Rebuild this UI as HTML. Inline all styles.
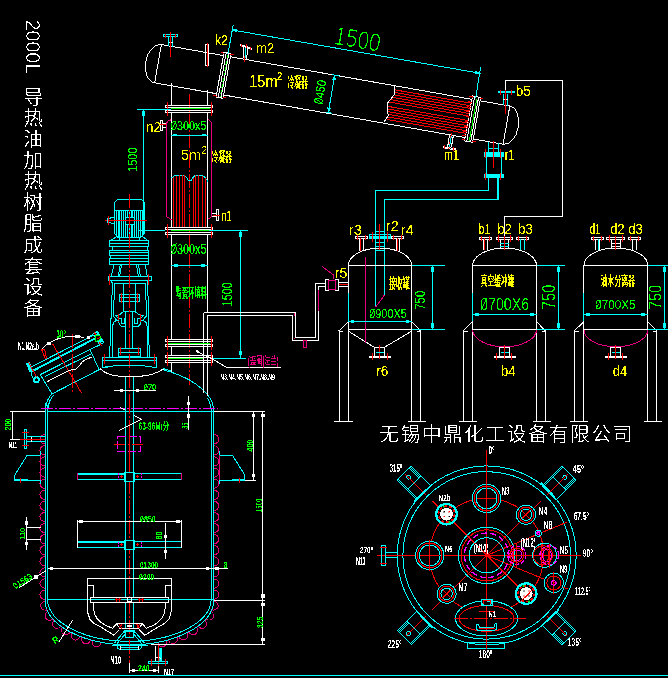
<!DOCTYPE html>
<html lang="zh"><head><meta charset="utf-8"><title>2000L 导热油加热树脂成套设备</title>
<style>
html,body{margin:0;padding:0;background:#000;}
body{width:668px;height:678px;overflow:hidden;position:relative;}
svg{display:block;position:absolute;left:0;top:0;}
svg *{vector-effect:none;}
text{font-family:"Liberation Sans","Noto Sans CJK SC",sans-serif;stroke:none;}
.cj{font-family:"Liberation Sans","Noto Sans CJK SC",sans-serif;}
</style></head><body>
<svg width="668" height="678" viewBox="0 0 668 678" shape-rendering="crispEdges" fill="none" stroke-linecap="butt">
<defs><filter id="pxx" x="0" y="0" width="668" height="678" filterUnits="userSpaceOnUse" color-interpolation-filters="sRGB"><feComponentTransfer><feFuncA type="discrete" tableValues="0 0 0 1"/></feComponentTransfer></filter>
<filter id="pxb" x="0" y="0" width="668" height="678" filterUnits="userSpaceOnUse" color-interpolation-filters="sRGB"><feComponentTransfer><feFuncA type="discrete" tableValues="0 0 0 1 1"/></feComponentTransfer></filter>
<filter id="pxm" x="0" y="0" width="668" height="678" filterUnits="userSpaceOnUse" color-interpolation-filters="sRGB"><feComponentTransfer><feFuncA type="discrete" tableValues="0 1"/></feComponentTransfer></filter>
<filter id="pxc" x="0" y="0" width="668" height="678" filterUnits="userSpaceOnUse" color-interpolation-filters="sRGB"><feComponentTransfer><feFuncA type="discrete" tableValues="0 0 1 1 1"/></feComponentTransfer></filter>
<filter id="pxs" x="0" y="0" width="668" height="678" filterUnits="userSpaceOnUse" color-interpolation-filters="sRGB"><feComponentTransfer><feFuncA type="discrete" tableValues="0 1 1 1"/></feComponentTransfer></filter>
</defs>
<rect x="0" y="0" width="668" height="678" fill="#000" stroke="none"/>
<line x1="161.4" y1="44.6" x2="223.44" y2="55.54" stroke="#ffffff"/>
<line x1="230.34" y1="56.76" x2="471.91" y2="99.35" stroke="#ffffff"/>
<line x1="479.99" y1="100.78" x2="509.82" y2="106.04" stroke="#ffffff"/>
<line x1="154.66" y1="82.81" x2="216.71" y2="93.75" stroke="#ffffff"/>
<line x1="223.6" y1="94.97" x2="465.17" y2="137.56" stroke="#ffffff"/>
<line x1="473.25" y1="138.99" x2="503.09" y2="144.25" stroke="#ffffff"/>
<line x1="161.4" y1="44.6" x2="154.66" y2="82.81" stroke="#ffffff"/>
<line x1="509.82" y1="106.04" x2="503.09" y2="144.25" stroke="#ffffff"/>
<g transform="translate(161.4 44.6) rotate(10.0)">
<path d="M0,0 A12.5,19.4 0 0 0 0,38.8" stroke="#ffffff" fill="none"/>
<path d="M353.8,0 A12,19.4 0 0 1 353.8,38.8" stroke="#ffffff" fill="none"/>
</g>
<polygon points="224.03,52.19 230.93,53.41 223.01,98.31 216.11,97.1" stroke="#ffffff" fill="none"/>
<line x1="226.2" y1="52.57" x2="218.28" y2="97.48" stroke="#ffffff"/>
<line x1="227.72" y1="54.87" x2="220.33" y2="96.83" stroke="#00ff00" stroke-dasharray="4 2"/>
<line x1="228.96" y1="53.06" x2="221.04" y2="97.97" stroke="#ffffff"/>
<line x1="220.91" y1="52.66" x2="224.35" y2="53.26" stroke="#ff0000"/>
<line x1="230.26" y1="54.31" x2="233.71" y2="54.91" stroke="#ff0000"/>
<line x1="213.33" y1="95.59" x2="216.78" y2="96.2" stroke="#ff0000"/>
<line x1="222.69" y1="97.24" x2="226.14" y2="97.85" stroke="#ff0000"/>
<polygon points="472.5,96 480.58,97.43 472.66,142.33 464.58,140.91" stroke="#ffffff" fill="none"/>
<line x1="474.67" y1="96.38" x2="466.75" y2="141.29" stroke="#ffffff"/>
<line x1="476.78" y1="98.79" x2="469.38" y2="140.74" stroke="#00ff00"/>
<line x1="478.61" y1="97.08" x2="470.69" y2="141.99" stroke="#ffffff"/>
<line x1="469.37" y1="96.47" x2="472.82" y2="97.07" stroke="#ff0000"/>
<line x1="479.91" y1="98.32" x2="483.36" y2="98.93" stroke="#ff0000"/>
<line x1="461.8" y1="139.4" x2="465.25" y2="140.01" stroke="#ff0000"/>
<line x1="472.34" y1="141.26" x2="475.79" y2="141.87" stroke="#ff0000"/>
<line x1="395.29" y1="89.9" x2="471.22" y2="103.29" stroke="#ff0000"/>
<line x1="395.29" y1="92.54" x2="470.76" y2="105.85" stroke="#ff0000"/>
<line x1="394.66" y1="95.07" x2="470.31" y2="108.41" stroke="#ff0000"/>
<line x1="393.06" y1="97.43" x2="469.86" y2="110.97" stroke="#ff0000"/>
<line x1="391.15" y1="99.73" x2="469.41" y2="113.53" stroke="#ff0000"/>
<line x1="389.18" y1="102.03" x2="468.96" y2="116.09" stroke="#ff0000"/>
<line x1="388.39" y1="106.46" x2="468.18" y2="120.52" stroke="#ff0000"/>
<line x1="388.39" y1="109.1" x2="467.72" y2="123.09" stroke="#ff0000"/>
<line x1="388.39" y1="111.74" x2="467.27" y2="125.65" stroke="#ff0000"/>
<line x1="389.01" y1="114.49" x2="466.82" y2="128.21" stroke="#ff0000"/>
<line x1="388.32" y1="117" x2="466.37" y2="130.77" stroke="#ff0000"/>
<line x1="386.7" y1="119.36" x2="465.92" y2="133.33" stroke="#ff0000"/>
<line x1="468.14" y1="101.73" x2="472.08" y2="102.43" stroke="#ff0000"/>
<line x1="467.27" y1="106.66" x2="471.21" y2="107.35" stroke="#ff0000"/>
<line x1="466.4" y1="111.58" x2="470.34" y2="112.28" stroke="#ff0000"/>
<line x1="465.53" y1="116.5" x2="469.47" y2="117.2" stroke="#ff0000"/>
<line x1="464.67" y1="121.43" x2="468.61" y2="122.12" stroke="#ff0000"/>
<line x1="463.8" y1="126.35" x2="467.74" y2="127.05" stroke="#ff0000"/>
<line x1="462.93" y1="131.28" x2="466.87" y2="131.97" stroke="#ff0000"/>
<line x1="462.24" y1="135.22" x2="466.17" y2="135.91" stroke="#ff0000"/>
<polyline points="394.5,85.8 394.5,94 392,97.7 387.6,102.8 387.6,112.8 388.6,115.3 383.8,122.3" stroke="#ffffff" fill="none"/>
<line x1="232.5" y1="30" x2="479.6" y2="73.2" stroke="#00ffff"/>
<line x1="227.9" y1="54" x2="233.3" y2="24.5" stroke="#00ffff"/>
<line x1="475.8" y1="97.7" x2="480.6" y2="66.9" stroke="#00ffff"/>
<polygon points="232.5,30 236.63,29.61 236.25,31.78" stroke="#00ffff" fill="#00ffff"/>
<polygon points="479.6,73.2 475.47,73.59 475.85,71.42" stroke="#00ffff" fill="#00ffff"/>
<line x1="334.8" y1="75.2" x2="328.3" y2="112.3" stroke="#00ffff"/>
<line x1="332" y1="74.6" x2="340" y2="76.2" stroke="#00ffff"/>
<line x1="326" y1="112" x2="332" y2="113.2" stroke="#00ffff"/>
<polygon points="334.8,75.5 335.19,79.63 333.02,79.25" stroke="#00ffff" fill="#00ffff"/>
<polygon points="328.3,112.2 327.91,108.07 330.08,108.45" stroke="#00ffff" fill="#00ffff"/>
<rect x="163.5" y="34.5" width="14" height="2" stroke="#00ffff" fill="none"/>
<line x1="168.5" y1="37" x2="168.5" y2="46" stroke="#00ffff"/>
<line x1="172.8" y1="37" x2="172.8" y2="47" stroke="#00ffff"/>
<line x1="168.5" y1="42.8" x2="172.8" y2="42.8" stroke="#ffffff"/>
<line x1="170.4" y1="31.9" x2="170.4" y2="56.7" stroke="#ff0000"/>
<line x1="165.5" y1="33.5" x2="165.5" y2="38" stroke="#ff0000"/>
<line x1="175.6" y1="33.5" x2="175.6" y2="38" stroke="#ff0000"/>
<rect x="205.5" y="44.5" width="3.4" height="21.3" stroke="#ffffff" fill="none"/>
<line x1="207.3" y1="43.2" x2="207.3" y2="66.8" stroke="#ff0000"/>
<line x1="240.3" y1="44.5" x2="252.2" y2="48.3" stroke="#ffffff"/>
<line x1="240.3" y1="45.6" x2="252.2" y2="49.4" stroke="#ffffff"/>
<line x1="244" y1="46.5" x2="243.4" y2="58.3" stroke="#ffffff"/>
<line x1="247.8" y1="48" x2="246.5" y2="59" stroke="#ffffff"/>
<line x1="246.5" y1="44.5" x2="244.4" y2="61.5" stroke="#ff0000"/>
<line x1="245.8" y1="48" x2="245" y2="58" stroke="#00ffff"/>
<line x1="241.5" y1="43.5" x2="241.5" y2="46.5" stroke="#ff0000"/>
<line x1="250.5" y1="46.5" x2="250.5" y2="50" stroke="#ff0000"/>
<line x1="449.5" y1="135.2" x2="447.6" y2="147.1" stroke="#ffffff"/>
<line x1="453.3" y1="135.8" x2="451.4" y2="147.1" stroke="#ffffff"/>
<line x1="442.6" y1="146.5" x2="455.8" y2="149" stroke="#ffffff"/>
<line x1="442.6" y1="147.6" x2="455.8" y2="150" stroke="#ffffff"/>
<line x1="451.4" y1="133.3" x2="448.9" y2="149" stroke="#ff0000"/>
<line x1="451.3" y1="136" x2="449.6" y2="147" stroke="#00ffff"/>
<line x1="444.5" y1="145" x2="444.5" y2="148.5" stroke="#ff0000"/>
<line x1="453.5" y1="147" x2="453.5" y2="150.5" stroke="#ff0000"/>
<rect x="498" y="91.2" width="16" height="1.1" stroke="#00ffff" fill="#00ffff"/>
<line x1="503" y1="93.5" x2="503" y2="104.8" stroke="#00ffff"/>
<line x1="507.8" y1="93.5" x2="507.8" y2="105.6" stroke="#00ffff"/>
<line x1="503" y1="99.5" x2="507.8" y2="99.5" stroke="#ffffff"/>
<line x1="505.4" y1="90.2" x2="505.4" y2="114" stroke="#ff0000"/>
<line x1="500.3" y1="90" x2="500.3" y2="94.5" stroke="#ff0000"/>
<line x1="511.7" y1="90" x2="511.7" y2="94.5" stroke="#ff0000"/>
<line x1="488.5" y1="141.6" x2="488.5" y2="152" stroke="#00ffff"/>
<line x1="498.6" y1="143.4" x2="498.6" y2="152" stroke="#00ffff"/>
<line x1="488.5" y1="148.4" x2="498.6" y2="148.4" stroke="#00ffff"/>
<rect x="484" y="152.5" width="19.3" height="3.5" stroke="#00ffff" fill="#00ffff"/>
<rect x="484" y="174" width="19.3" height="3.5" stroke="#00ffff" fill="#00ffff"/>
<line x1="486.2" y1="156.5" x2="486.2" y2="173.5" stroke="#00ffff"/>
<line x1="501" y1="156.5" x2="501" y2="173.5" stroke="#00ffff"/>
<line x1="493.5" y1="140.8" x2="493.5" y2="167.9" stroke="#ff0000"/>
<line x1="485.4" y1="149" x2="485.4" y2="158.4" stroke="#ff0000"/>
<line x1="485.4" y1="172.9" x2="485.4" y2="179.8" stroke="#ff0000"/>
<line x1="500.4" y1="149" x2="500.4" y2="158.4" stroke="#ff0000"/>
<line x1="500.4" y1="172.9" x2="500.4" y2="179.8" stroke="#ff0000"/>
<polyline points="488.5,178 488.5,190.5 375.5,190.5 375.5,307.3" stroke="#00ffff" fill="none"/>
<polyline points="498.6,199.5 384.2,199.5 384.2,295.2" stroke="#00ffff" fill="none"/>
<rect x="497.4" y="178" width="1.5" height="21.5" stroke="#00ffff" fill="#00ffff" stroke-width="0.8"/>
<polyline points="505.2,90 505.2,80.1 562.9,80.1 562.9,216 504.7,216 504.7,236" stroke="#ffffff" fill="none"/>
<line x1="171.4" y1="83" x2="171.4" y2="105.3" stroke="#ffffff"/>
<line x1="207.9" y1="89.5" x2="207.9" y2="105.3" stroke="#ffffff"/>
<line x1="171.4" y1="112.6" x2="171.4" y2="227.3" stroke="#ffffff"/>
<line x1="207.9" y1="112.6" x2="207.9" y2="227.3" stroke="#ffffff"/>
<line x1="171.4" y1="234.6" x2="171.4" y2="339.3" stroke="#ffffff"/>
<line x1="171.4" y1="346.7" x2="171.4" y2="355.2" stroke="#ffffff"/>
<line x1="171.4" y1="362.6" x2="171.4" y2="372.5" stroke="#ffffff"/>
<line x1="207.9" y1="234.6" x2="207.9" y2="312" stroke="#ffffff"/>
<line x1="189.5" y1="93.5" x2="189.5" y2="384.5" stroke="#ff0000" stroke-dasharray="14 2 2 2"/>
<rect x="165.2" y="105.3" width="47.5" height="2.55" stroke="#ffffff" fill="none"/>
<rect x="165.2" y="110.05" width="47.5" height="2.55" stroke="#ffffff" fill="none"/>
<line x1="171.4" y1="108.95" x2="209.8" y2="108.95" stroke="#00ff00"/>
<line x1="167.4" y1="101.9" x2="167.4" y2="115.6" stroke="#ff0000"/>
<line x1="211.4" y1="101.9" x2="211.4" y2="115.6" stroke="#ff0000"/>
<rect x="165.3" y="227.3" width="47.3" height="2.55" stroke="#ffffff" fill="none"/>
<rect x="165.3" y="232.05" width="47.3" height="2.55" stroke="#ffffff" fill="none"/>
<line x1="170.8" y1="230.95" x2="209" y2="230.95" stroke="#00ff00"/>
<line x1="167.5" y1="223.9" x2="167.5" y2="237.6" stroke="#ff0000"/>
<line x1="211.3" y1="223.9" x2="211.3" y2="237.6" stroke="#ff0000"/>
<line x1="136.7" y1="109.4" x2="171.4" y2="109.4" stroke="#00ffff"/>
<line x1="143.6" y1="109.4" x2="143.6" y2="230.5" stroke="#00ffff"/>
<line x1="138" y1="230.5" x2="165.3" y2="230.5" stroke="#00ffff"/>
<line x1="209" y1="230.5" x2="247.5" y2="230.5" stroke="#00ffff"/>
<rect x="142.6" y="111.5" width="2" height="3.5" stroke="#00ffff" fill="#00ffff"/>
<rect x="142.6" y="225" width="2" height="4" stroke="#00ffff" fill="#00ffff"/>
<rect x="160.3" y="120.3" width="2" height="10.5" stroke="#ffffff" fill="none"/>
<line x1="162.3" y1="123.5" x2="166.4" y2="123.5" stroke="#ffffff"/>
<line x1="162.3" y1="127.2" x2="166.4" y2="127.2" stroke="#ffffff"/>
<line x1="159" y1="124" x2="166" y2="124" stroke="#ff0000"/>
<polyline points="170.8,119.9 168,121 166.4,123.3 166.4,216.6 171.4,219.7" stroke="#e6007e" fill="none"/>
<polyline points="208,119.6 210.3,121 211.8,123.3 211.8,216.6 207.9,219.3" stroke="#e6007e" fill="none"/>
<line x1="171.4" y1="135.6" x2="207.9" y2="135.6" stroke="#00ffff"/>
<rect x="173.5" y="134.2" width="3" height="1.4" stroke="#00ffff" fill="#00ffff"/>
<rect x="202" y="134.2" width="3.5" height="1.4" stroke="#00ffff" fill="#00ffff"/>
<polyline points="171.4,178.2 174,176 177,175.3 184,175.3 186.5,177.5 188,180 189.6,180.7 191.5,180 193,177.5 195.3,175.3 201.6,175.3 204.5,177 207.9,181.4" stroke="#00ffff" fill="none"/>
<line x1="173.3" y1="177" x2="173.3" y2="227.3" stroke="#ff0000"/>
<line x1="176.4" y1="175.6" x2="176.4" y2="227.3" stroke="#ff0000"/>
<line x1="179.6" y1="175.3" x2="179.6" y2="227.3" stroke="#ff0000"/>
<line x1="182.1" y1="175.3" x2="182.1" y2="227.3" stroke="#ff0000"/>
<line x1="184" y1="175.3" x2="184" y2="227.3" stroke="#ff0000"/>
<line x1="193.4" y1="177.5" x2="193.4" y2="227.3" stroke="#ff0000"/>
<line x1="195.3" y1="175.3" x2="195.3" y2="227.3" stroke="#ff0000"/>
<line x1="198.4" y1="175.3" x2="198.4" y2="227.3" stroke="#ff0000"/>
<line x1="202.2" y1="175.6" x2="202.2" y2="227.3" stroke="#ff0000"/>
<line x1="205.3" y1="178" x2="205.3" y2="227.3" stroke="#ff0000"/>
<line x1="211.9" y1="213.6" x2="216.5" y2="213.6" stroke="#ffffff"/>
<line x1="211.9" y1="216.8" x2="216.5" y2="216.8" stroke="#ffffff"/>
<rect x="216.3" y="209.5" width="2.6" height="11.1" stroke="#ffffff" fill="none"/>
<line x1="213" y1="215.3" x2="220" y2="215.3" stroke="#ff0000"/>
<line x1="171.4" y1="265.4" x2="207.9" y2="265.4" stroke="#00ffff"/>
<rect x="174.3" y="264.3" width="2.7" height="2.3" stroke="#00ffff" fill="#00ffff"/>
<rect x="201.4" y="264.3" width="2.8" height="2.3" stroke="#00ffff" fill="#00ffff"/>
<line x1="240.6" y1="230.5" x2="240.6" y2="358.3" stroke="#00ffff"/>
<rect x="239.4" y="232.5" width="2.4" height="3.5" stroke="#00ffff" fill="#00ffff"/>
<rect x="239.4" y="351.8" width="2.4" height="3" stroke="#00ffff" fill="#00ffff"/>
<polyline points="114.2,210.1 114.2,202.7 117.7,199.2 141.5,199.2 144.7,202.5 144.7,210.1" stroke="#00ffff" fill="none"/>
<line x1="114.2" y1="210.1" x2="144.7" y2="210.1" stroke="#00ffff"/>
<polyline points="114.2,210.1 114.2,232.8 118.3,237.8 140.3,237.8 144.7,232.8 144.7,210.1" stroke="#00ffff" fill="none"/>
<line x1="116.2" y1="211" x2="116.2" y2="236.8" stroke="#00ffff"/>
<line x1="118.06" y1="211" x2="118.06" y2="236.8" stroke="#00ffff"/>
<line x1="119.92" y1="211" x2="119.92" y2="236.8" stroke="#00ffff"/>
<line x1="121.78" y1="211" x2="121.78" y2="236.8" stroke="#00ffff"/>
<line x1="123.64" y1="211" x2="123.64" y2="236.8" stroke="#00ffff"/>
<line x1="125.5" y1="211" x2="125.5" y2="236.8" stroke="#00ffff"/>
<line x1="127.36" y1="211" x2="127.36" y2="236.8" stroke="#00ffff"/>
<line x1="129.22" y1="211" x2="129.22" y2="236.8" stroke="#00ffff"/>
<line x1="131.08" y1="211" x2="131.08" y2="236.8" stroke="#00ffff"/>
<line x1="132.94" y1="211" x2="132.94" y2="236.8" stroke="#00ffff"/>
<line x1="134.8" y1="211" x2="134.8" y2="236.8" stroke="#00ffff"/>
<line x1="136.66" y1="211" x2="136.66" y2="236.8" stroke="#00ffff"/>
<line x1="138.52" y1="211" x2="138.52" y2="236.8" stroke="#00ffff"/>
<line x1="140.38" y1="211" x2="140.38" y2="236.8" stroke="#00ffff"/>
<line x1="142.24" y1="211" x2="142.24" y2="236.8" stroke="#00ffff"/>
<line x1="143.9" y1="203" x2="143.9" y2="233" stroke="#00ffff" stroke-width="2"/>
<rect x="125" y="217" width="9.9" height="7" stroke="#00ffff" fill="#000000"/>
<line x1="104.8" y1="220.4" x2="146.6" y2="220.4" stroke="#ff0000"/>
<polyline points="114.2,217.2 111.5,217.2 110.5,218.2 107,218.2 107,222.3 110.5,222.3 111.5,223.2 114.2,223.2" stroke="#00ffff" fill="none"/>
<line x1="108.6" y1="215.8" x2="108.6" y2="224.6" stroke="#ff0000"/>
<line x1="118.3" y1="237.8" x2="140.3" y2="237.8" stroke="#00ffff"/>
<line x1="115.8" y1="237.2" x2="110" y2="240.9" stroke="#00ffff"/>
<line x1="143.5" y1="237.2" x2="148.5" y2="240.9" stroke="#00ffff"/>
<line x1="119.8" y1="237.8" x2="119.8" y2="240.9" stroke="#00ffff"/>
<line x1="139.2" y1="237.8" x2="139.2" y2="240.9" stroke="#00ffff"/>
<rect x="109.5" y="240.9" width="39.4" height="5.7" stroke="#00ffff" fill="none"/>
<line x1="109.5" y1="243.5" x2="148.9" y2="243.5" stroke="#00ffff"/>
<rect x="109.5" y="250.4" width="39.4" height="5" stroke="#00ffff" fill="none"/>
<line x1="109.5" y1="252.3" x2="148.9" y2="252.3" stroke="#00ffff"/>
<rect x="109.5" y="258.6" width="39.4" height="5.7" stroke="#00ffff" fill="none"/>
<line x1="109.5" y1="261.7" x2="148.9" y2="261.7" stroke="#00ffff"/>
<rect x="112" y="246.6" width="35.2" height="3.8" stroke="#00ffff" fill="none"/>
<rect x="110.8" y="255.4" width="37.2" height="3.2" stroke="#00ffff" fill="none"/>
<line x1="113.9" y1="264.4" x2="111.4" y2="276.1" stroke="#00ffff"/>
<line x1="120.2" y1="264.4" x2="118.3" y2="276.1" stroke="#00ffff"/>
<line x1="121.5" y1="265" x2="119.6" y2="276.1" stroke="#00ffff"/>
<line x1="136.5" y1="264.4" x2="138.4" y2="276.1" stroke="#00ffff"/>
<line x1="138.4" y1="264.4" x2="140.3" y2="276.1" stroke="#00ffff"/>
<line x1="145.3" y1="264.4" x2="147.2" y2="276.1" stroke="#00ffff"/>
<rect x="108.2" y="276.1" width="42.8" height="4.5" stroke="#00ffff" fill="none"/>
<line x1="109.5" y1="273.8" x2="109.5" y2="284.5" stroke="#ff0000"/>
<line x1="148.5" y1="273.8" x2="148.5" y2="284.5" stroke="#ff0000"/>
<polyline points="110.8,280.6 112.4,283 112.4,294 111.3,296 111.3,318 110.3,320 110.3,345 109.8,346.5 109.8,357" stroke="#00ffff" fill="none"/>
<polyline points="148.2,280.6 147.2,283 147.2,294 148,296 148,318 148.9,320 148.9,345 149.4,346.5 149.4,357" stroke="#00ffff" fill="none"/>
<polyline points="114.5,299 114.5,283.3 145.3,283.3 145.3,299" stroke="#00ffff" fill="none"/>
<polyline points="114.5,299 113.2,301 113.2,316 116,319.5 118.5,321 119.5,324.5 121.5,326.5 125.6,326.5" stroke="#00ffff" fill="none"/>
<polyline points="145.3,299 146.4,301 146.4,316 143.5,319.5 141,321 140,324.5 138,326.5 132.8,326.5" stroke="#00ffff" fill="none"/>
<polyline points="123.3,283.3 123.3,311.6 135,311.6 135,283.3" stroke="#00ffff" fill="none"/>
<rect x="119.2" y="294" width="20.5" height="7.5" stroke="#00ffff" fill="none"/>
<line x1="119.2" y1="297.6" x2="139.7" y2="297.6" stroke="#00ffff"/>
<line x1="121.2" y1="292.5" x2="121.2" y2="303" stroke="#ff0000"/>
<line x1="137.5" y1="292.5" x2="137.5" y2="303" stroke="#ff0000"/>
<polyline points="125.6,311.6 125.6,348" stroke="#00ffff" fill="none"/>
<polyline points="132.8,311.6 132.8,348" stroke="#00ffff" fill="none"/>
<polyline points="123.3,311.6 120,314.5 116,315.5 118,318 121.5,318" stroke="#00ffff" fill="none"/>
<polyline points="135,311.6 139,314.5 143,315.5 141,318 137.5,318" stroke="#00ffff" fill="none"/>
<polyline points="121.5,317.5 121.5,323.5 124.5,323.5 124.5,317.5" stroke="#00ffff" fill="none"/>
<polyline points="137.5,317.5 137.5,323.5 134,323.5 134,317.5" stroke="#00ffff" fill="none"/>
<line x1="118.4" y1="313.5" x2="118.4" y2="322" stroke="#ff0000"/>
<line x1="140.6" y1="313.5" x2="140.6" y2="322" stroke="#ff0000"/>
<polyline points="112.4,357 112.4,327 113.5,322.5 116,320.5 119,320" stroke="#00ffff" fill="none"/>
<polyline points="147.2,357 147.2,327 146,322.5 143.5,320.5 140.5,320" stroke="#00ffff" fill="none"/>
<rect x="118.3" y="348.3" width="22.6" height="8" stroke="#00ffff" fill="none"/>
<line x1="118.3" y1="352" x2="140.9" y2="352" stroke="#00ffff"/>
<line x1="120.5" y1="346.5" x2="120.5" y2="354.5" stroke="#ff0000"/>
<line x1="138.4" y1="346.5" x2="138.4" y2="354.5" stroke="#ff0000"/>
<polyline points="109.8,357.1 102.6,357.1 102.6,367.2 108,367.2" stroke="#00ffff" fill="none"/>
<polyline points="149.4,357.1 156.7,357.1 156.7,367.2 151.5,367.2" stroke="#00ffff" fill="none"/>
<line x1="109.8" y1="357.1" x2="149.4" y2="357.1" stroke="#00ffff"/>
<line x1="102.6" y1="360.5" x2="156.7" y2="360.5" stroke="#00ffff"/>
<line x1="104.5" y1="354" x2="104.5" y2="364" stroke="#ff0000"/>
<line x1="154.6" y1="354" x2="154.6" y2="364" stroke="#ff0000"/>
<line x1="125.6" y1="375.5" x2="125.6" y2="580" stroke="#00ffff"/>
<line x1="133.4" y1="375.5" x2="133.4" y2="580" stroke="#00ffff"/>
<line x1="129.6" y1="194.4" x2="129.6" y2="400" stroke="#ff0000" stroke-dasharray="14 2 2 2"/>
<line x1="45.1" y1="403.4" x2="45.1" y2="600.2" stroke="#00ffff"/>
<line x1="47.5" y1="405.4" x2="47.5" y2="600.2" stroke="#00ffff"/>
<line x1="211.2" y1="409.4" x2="211.2" y2="600.2" stroke="#00ffff"/>
<line x1="213.7" y1="409.4" x2="213.7" y2="600.2" stroke="#00ffff"/>
<path d="M45.1,600.2 A84.30000000000001,44.6 0 0 0 213.7,600.2" stroke="#00ffff" fill="none"/>
<path d="M47.5,600.2 A81.9,42.6 0 0 0 211.2,600.2" stroke="#00ffff" fill="none"/>
<line x1="47.5" y1="599.9" x2="213.7" y2="599.9" stroke="#00ffff"/>
<line x1="47.5" y1="411.4" x2="213.7" y2="411.4" stroke="#00ffff"/>
<path d="M213.7,411.4 C213.39999999999998,404 212,401 210.3,398.5 C208,394.5 206,392.5 202.8,389.6 C198,385.3 194,382.5 188.9,379.7 C183,376.5 177,374 171.3,372.2 L163,369.8" stroke="#00ffff" fill="none"/>
<path d="M211.2,411.4 C210.89999999999998,405 209.5,401 207.5,398" stroke="#00ffff" fill="none"/>
<path d="M163,368.6 L170.5,370.6" stroke="#00ffff" fill="none"/>
<path d="M102.6,367.5 C110,366 118,365.3 129.4,365.3 C141,365.3 149,366 156.7,368" stroke="#00ffff" fill="none"/>
<path d="M52,393.9 C48.5,397 46.2,402 45.3,410" stroke="#00ffff" fill="none"/>
<path d="M53.8,395 C50.5,398 48.5,403 47.6,410" stroke="#00ffff" fill="none"/>
<path d="M100,368.6 C104,372.5 110,375.6 119,376.2 L141,376.2 C150,375.6 157,373 163.5,369" stroke="#ffffff" fill="none"/>
<line x1="41.4" y1="408.4" x2="217.8" y2="408.4" stroke="#ff00ff" stroke-dasharray="12 2 2 2"/>
<line x1="214" y1="411.4" x2="265" y2="411.4" stroke="#ffffff"/>
<path d="M45.1,599.3 A4.65,5.2 -90 0 1 45.1,590 M45.1,588.2 A4.65,5.2 -90 0 1 45.1,578.9 M45.1,577.1 A4.65,5.2 -90 0 1 45.1,567.8 M45.1,566 A4.65,5.2 -90 0 1 45.1,556.7 M45.1,554.9 A4.65,5.2 -90 0 1 45.1,545.6 M45.1,543.8 A4.65,5.2 -90 0 1 45.1,534.5 M45.1,532.7 A4.65,5.2 -90 0 1 45.1,523.4 M45.1,521.6 A4.65,5.2 -90 0 1 45.1,512.3 M45.1,510.5 A4.65,5.2 -90 0 1 45.1,501.2 M45.1,499.4 A4.65,5.2 -90 0 1 45.1,490.1 M45.1,488.3 A4.65,5.2 -90 0 1 45.1,479 M45.1,477.2 A4.65,5.2 -90 0 1 45.1,467.9 M45.1,466.1 A4.65,5.2 -90 0 1 45.1,456.8 M45.1,455 A4.65,5.2 -90 0 1 45.1,445.7 M45.1,443.9 A4.65,5.2 -90 0 1 45.1,434.6 " stroke="#e6007e" fill="none"/>
<path d="M213.7,434.6 A4.65,5.2 90 0 1 213.7,443.9 M213.7,445.7 A4.65,5.2 90 0 1 213.7,455 M213.7,456.8 A4.65,5.2 90 0 1 213.7,466.1 M213.7,467.9 A4.65,5.2 90 0 1 213.7,477.2 M213.7,479 A4.65,5.2 90 0 1 213.7,488.3 M213.7,490.1 A4.65,5.2 90 0 1 213.7,499.4 M213.7,501.2 A4.65,5.2 90 0 1 213.7,510.5 M213.7,512.3 A4.65,5.2 90 0 1 213.7,521.6 M213.7,523.4 A4.65,5.2 90 0 1 213.7,532.7 M213.7,534.5 A4.65,5.2 90 0 1 213.7,543.8 M213.7,545.6 A4.65,5.2 90 0 1 213.7,554.9 M213.7,556.7 A4.65,5.2 90 0 1 213.7,566 M213.7,567.8 A4.65,5.2 90 0 1 213.7,577.1 M213.7,578.9 A4.65,5.2 90 0 1 213.7,588.2 M213.7,590 A4.65,5.2 90 0 1 213.7,599.3 " stroke="#e6007e" fill="none"/>
<line x1="40.3" y1="455.4" x2="40.3" y2="480.2" stroke="#e6007e"/>
<line x1="219.3" y1="455.4" x2="219.3" y2="480.2" stroke="#e6007e"/>
<path d="M44.8,601.08 A4.56,5.2 77.26 0 0 46.81,609.97 M47.51,611.59 A4.6,5.2 55.77 0 0 52.69,619.2 M53.88,620.53 A4.57,5.2 41.02 0 0 60.76,626.53 M62.22,627.58 A4.61,5.2 30.91 0 0 70.12,632.31 M71.72,633.13 A4.55,5.2 23.45 0 0 80.07,636.75 M81.75,637.38 A4.62,5.2 17.52 0 0 90.56,640.16 M92.3,640.63 A4.57,5.2 12.51 0 0 101.23,642.61 " stroke="#e6007e" fill="none"/>
<path d="M157.7,642.59 A4.57,5.2 -12.56 0 0 166.62,640.6 M168.36,640.13 A4.62,5.2 -17.58 0 0 177.16,637.34 M178.84,636.71 A4.55,5.2 -23.51 0 0 187.18,633.08 M188.78,632.26 A4.6,5.2 -30.99 0 0 196.66,627.52 M198.11,626.47 A4.56,5.2 -41.12 0 0 204.98,620.47 M206.17,619.13 A4.6,5.2 -55.9 0 0 211.32,611.52 M212.02,609.9 A4.52,5.2 -77.34 0 0 214,601.08 " stroke="#e6007e" fill="none"/>
<line x1="40.1" y1="451.4" x2="40.1" y2="455.4" stroke="#00ffff"/>
<line x1="40.1" y1="480.2" x2="40.1" y2="484" stroke="#00ffff"/>
<polyline points="40.1,455.4 27.1,455.4 14.7,475.2 14.7,480.2 40.1,480.2" stroke="#00ffff" fill="none"/>
<line x1="28.1" y1="479" x2="14.7" y2="479" stroke="#00ffff"/>
<line x1="20.1" y1="478" x2="20.1" y2="482.5" stroke="#ff0000"/>
<line x1="219.5" y1="451.4" x2="219.5" y2="455.4" stroke="#00ffff"/>
<line x1="219.5" y1="480.2" x2="219.5" y2="484" stroke="#00ffff"/>
<polyline points="219.5,455.4 232.5,455.4 244.9,475.2 244.9,480.2 219.5,480.2" stroke="#00ffff" fill="none"/>
<line x1="231.5" y1="479" x2="244.9" y2="479" stroke="#00ffff"/>
<line x1="239.5" y1="478" x2="239.5" y2="482.5" stroke="#ff0000"/>
<rect x="24.2" y="429.2" width="2.5" height="19.5" stroke="#00ffff" fill="none"/>
<line x1="27" y1="436.6" x2="45" y2="436.6" stroke="#00ffff"/>
<line x1="27" y1="441.8" x2="45" y2="441.8" stroke="#00ffff"/>
<line x1="31.4" y1="437" x2="31.4" y2="441.5" stroke="#ffffff"/>
<line x1="20.2" y1="439.3" x2="44.6" y2="439.3" stroke="#ff0000"/>
<line x1="22" y1="432.4" x2="29" y2="432.4" stroke="#ff0000"/>
<line x1="22" y1="445.4" x2="29" y2="445.4" stroke="#ff0000"/>
<line x1="10" y1="411.4" x2="45" y2="411.4" stroke="#ffffff"/>
<line x1="12" y1="411.4" x2="12" y2="439.3" stroke="#ffffff"/>
<line x1="10" y1="439.3" x2="20.2" y2="439.3" stroke="#ffffff"/>
<line x1="26.4" y1="516.5" x2="26.4" y2="550.3" stroke="#ffffff"/>
<line x1="26.4" y1="527.4" x2="41.4" y2="527.4" stroke="#ffffff"/>
<line x1="26.4" y1="539.6" x2="41.4" y2="539.6" stroke="#ffffff"/>
<rect x="25.2" y="521.8" width="2.4" height="2.4" stroke="#ffffff" fill="#ffffff"/>
<rect x="25.2" y="542.3" width="2.4" height="2.4" stroke="#ffffff" fill="#ffffff"/>
<line x1="125.5" y1="376.5" x2="125.5" y2="628" stroke="#00ffff"/>
<line x1="133.6" y1="376.5" x2="133.6" y2="628" stroke="#00ffff"/>
<line x1="129.4" y1="400" x2="129.4" y2="672" stroke="#ff0000" stroke-dasharray="14 2 2 2"/>
<line x1="114.2" y1="390.5" x2="156" y2="390.5" stroke="#ffffff"/>
<rect x="120.2" y="389.3" width="2.4" height="2.4" stroke="#ffffff" fill="#ffffff"/>
<rect x="136.4" y="389.3" width="2.4" height="2.4" stroke="#ffffff" fill="#ffffff"/>
<polyline points="120.4,407.6 125.2,410.2" stroke="#ffffff" fill="none"/>
<polyline points="133.8,415.2 141.7,419.2 119.1,430.5" stroke="#ffffff" fill="none"/>
<line x1="188.6" y1="396.3" x2="188.6" y2="429.8" stroke="#ffffff"/>
<rect x="187.4" y="402.3" width="2.4" height="2.4" stroke="#ffffff" fill="#ffffff"/>
<rect x="187.4" y="414.6" width="2.4" height="2.4" stroke="#ffffff" fill="#ffffff"/>
<rect x="117.4" y="436.1" width="23" height="15.5" stroke="#ff00ff" stroke-dasharray="8 2.5" stroke-dashoffset="-1"/>
<line x1="114.2" y1="444.1" x2="124.6" y2="444.1" stroke="#ff0000"/>
<line x1="131.5" y1="444.1" x2="143" y2="444.1" stroke="#ff0000"/>
<line x1="127.5" y1="444.1" x2="129.5" y2="444.1" stroke="#ff0000"/>
<line x1="129.4" y1="430" x2="129.4" y2="472" stroke="#ff0000"/>
<rect x="77.2" y="473.3" width="104.2" height="6.3" stroke="#00ffff" fill="none"/>
<line x1="77.2" y1="474.1" x2="124" y2="474.1" stroke="#00ffff"/>
<rect x="124.3" y="472.1" width="10.3" height="9.1" stroke="#00ffff" fill="#000000"/>
<line x1="77.2" y1="473.3" x2="77.2" y2="479.6" stroke="#e6007e"/>
<line x1="181.4" y1="473.3" x2="181.4" y2="479.6" stroke="#e6007e"/>
<line x1="118" y1="473.3" x2="118" y2="479.6" stroke="#ff00ff" stroke-dasharray="2 1"/>
<line x1="141.3" y1="473.3" x2="141.3" y2="479.6" stroke="#ff00ff" stroke-dasharray="2 1"/>
<line x1="119.8" y1="476.45" x2="122.8" y2="476.45" stroke="#ff0000"/>
<line x1="121.3" y1="474.8" x2="121.3" y2="478.1" stroke="#ff0000"/>
<line x1="136.1" y1="476.45" x2="139.1" y2="476.45" stroke="#ff0000"/>
<line x1="137.6" y1="474.8" x2="137.6" y2="478.1" stroke="#ff0000"/>
<rect x="77.2" y="541.7" width="104.2" height="6.2" stroke="#00ffff" fill="none"/>
<line x1="77.2" y1="542.5" x2="124" y2="542.5" stroke="#00ffff"/>
<rect x="124.3" y="540.5" width="10.3" height="9" stroke="#00ffff" fill="#000000"/>
<line x1="77.2" y1="541.7" x2="77.2" y2="547.9" stroke="#e6007e"/>
<line x1="181.4" y1="541.7" x2="181.4" y2="547.9" stroke="#e6007e"/>
<line x1="118" y1="541.7" x2="118" y2="547.9" stroke="#ff00ff" stroke-dasharray="2 1"/>
<line x1="141.3" y1="541.7" x2="141.3" y2="547.9" stroke="#ff00ff" stroke-dasharray="2 1"/>
<line x1="119.8" y1="544.8" x2="122.8" y2="544.8" stroke="#ff0000"/>
<line x1="121.3" y1="543.2" x2="121.3" y2="546.4" stroke="#ff0000"/>
<line x1="136.1" y1="544.8" x2="139.1" y2="544.8" stroke="#ff0000"/>
<line x1="137.6" y1="543.2" x2="137.6" y2="546.4" stroke="#ff0000"/>
<line x1="125.5" y1="470" x2="125.5" y2="550" stroke="#00ffff"/>
<line x1="133.6" y1="470" x2="133.6" y2="550" stroke="#00ffff"/>
<line x1="77.2" y1="521.5" x2="181.4" y2="521.5" stroke="#ffffff"/>
<line x1="77.2" y1="519.7" x2="77.2" y2="547.8" stroke="#ffffff"/>
<line x1="181.4" y1="519.7" x2="181.4" y2="547.8" stroke="#ffffff"/>
<rect x="79.8" y="520.3" width="2.4" height="2.4" stroke="#ffffff" fill="#ffffff"/>
<rect x="176.8" y="520.3" width="2.4" height="2.4" stroke="#ffffff" fill="#ffffff"/>
<line x1="165.5" y1="523" x2="165.5" y2="558.5" stroke="#ffffff"/>
<rect x="164.3" y="535.4" width="2.4" height="2.4" stroke="#ffffff" fill="#ffffff"/>
<rect x="164.3" y="550" width="2.4" height="2.4" stroke="#ffffff" fill="#ffffff"/>
<line x1="47.5" y1="568.4" x2="227.8" y2="568.4" stroke="#ffffff"/>
<rect x="50.3" y="567.2" width="2.4" height="2.4" stroke="#ffffff" fill="#ffffff"/>
<rect x="206.3" y="567.2" width="2.4" height="2.4" stroke="#ffffff" fill="#ffffff"/>
<rect x="215.8" y="567.2" width="2.4" height="2.4" stroke="#ffffff" fill="#ffffff"/>
<line x1="18.8" y1="588" x2="46.4" y2="570.4" stroke="#ffffff"/>
<rect x="34.8" y="575.8" width="2.4" height="2.4" stroke="#ffffff" fill="#ffffff"/>
<line x1="87.3" y1="578.8" x2="171.6" y2="578.8" stroke="#ffffff"/>
<polyline points="87.3,578.8 87.3,608 88,613.5 90,619.5 94,623.3 101.3,627.3 108,631.5 113.9,635.2 119.6,629.6" stroke="#ffffff" fill="none"/>
<polyline points="171.5,578.8 171.5,608 170.8,613.5 168.8,619.5 164.8,623.3 157.5,627.3 150.8,631.5 144.9,635.2 139.2,629.6" stroke="#ffffff" fill="none"/>
<polyline points="87.3,585.7 93.3,585.7 93.3,606 94.4,613.5 97,618.5 101.3,622.8 106.5,625.8 112.6,628.3 116.4,623.7" stroke="#ffffff" fill="none"/>
<polyline points="171.5,585.7 165.5,585.7 165.5,606 164.4,613.5 161.8,618.5 157.5,622.8 152.3,625.8 146.2,628.3 142.4,623.7" stroke="#ffffff" fill="none"/>
<rect x="90.5" y="597" width="78.1" height="5.4" stroke="#ffffff" fill="#000000"/>
<line x1="90.5" y1="599.9" x2="168.6" y2="599.9" stroke="#00ffff"/>
<rect x="127.6" y="597.6" width="3.8" height="4.2" stroke="#ffffff" fill="none"/>
<line x1="116" y1="598.2" x2="116" y2="601.5" stroke="#ff0000"/>
<line x1="119.5" y1="598.2" x2="119.5" y2="601.5" stroke="#ff0000"/>
<line x1="139" y1="598.2" x2="139" y2="601.5" stroke="#ff0000"/>
<line x1="142.5" y1="598.2" x2="142.5" y2="601.5" stroke="#ff0000"/>
<line x1="115" y1="599.8" x2="121" y2="599.8" stroke="#ff0000"/>
<line x1="137.6" y1="599.8" x2="144" y2="599.8" stroke="#ff0000"/>
<polygon points="116.4,623.7 142.4,623.7 138.6,628.7 120.2,628.7" stroke="#ffffff" fill="none"/>
<rect x="127.8" y="625.2" width="3.2" height="1.2" stroke="#ffffff" fill="#ffffff"/>
<line x1="119.3" y1="624.2" x2="121.9" y2="628.3" stroke="#ff0000"/>
<line x1="121.9" y1="624.2" x2="119.3" y2="628.3" stroke="#ff0000"/>
<line x1="136.9" y1="624.2" x2="139.5" y2="628.3" stroke="#ff0000"/>
<line x1="139.5" y1="624.2" x2="136.9" y2="628.3" stroke="#ff0000"/>
<polygon points="124,630.2 124,632.2 125.5,632.2 125.5,637.8 133.3,637.8 133.3,632.2 134.8,632.2 134.8,630.2" stroke="#00ffff" fill="none"/>
<line x1="124" y1="631.5" x2="134.8" y2="631.5" stroke="#00ffff"/>
<line x1="125.2" y1="634" x2="117.2" y2="643.4" stroke="#00ffff"/>
<line x1="133.6" y1="634" x2="141.6" y2="643.4" stroke="#00ffff"/>
<line x1="124.5" y1="631" x2="114.5" y2="643" stroke="#00ffff"/>
<line x1="134.3" y1="631" x2="144.3" y2="643" stroke="#00ffff"/>
<polyline points="117,643.4 117,647.5 119.5,649.7 139.3,649.7 141.8,647.5 141.8,643.4" stroke="#00ffff" fill="none"/>
<line x1="112" y1="645.2" x2="148" y2="645.2" stroke="#00ffff"/>
<line x1="119.5" y1="647" x2="139.3" y2="647" stroke="#00ffff"/>
<line x1="120.4" y1="645.5" x2="120.4" y2="650" stroke="#ffffff"/>
<line x1="138.4" y1="645.5" x2="138.4" y2="650" stroke="#ffffff"/>
<line x1="253.4" y1="411.4" x2="253.4" y2="480.2" stroke="#ffffff"/>
<rect x="252.2" y="414.3" width="2.4" height="2.4" stroke="#ffffff" fill="#ffffff"/>
<rect x="252.2" y="474.3" width="2.4" height="2.4" stroke="#ffffff" fill="#ffffff"/>
<line x1="245" y1="480.2" x2="255.5" y2="480.2" stroke="#ffffff"/>
<line x1="262.8" y1="411.4" x2="262.8" y2="644.8" stroke="#ffffff"/>
<rect x="261.6" y="414.3" width="2.4" height="2.4" stroke="#ffffff" fill="#ffffff"/>
<rect x="261.6" y="594.8" width="2.4" height="2.4" stroke="#ffffff" fill="#ffffff"/>
<rect x="261.6" y="603.1" width="2.4" height="2.4" stroke="#ffffff" fill="#ffffff"/>
<rect x="261.6" y="638.3" width="2.4" height="2.4" stroke="#ffffff" fill="#ffffff"/>
<line x1="214" y1="600" x2="265" y2="600" stroke="#ffffff"/>
<line x1="151" y1="644.8" x2="265" y2="644.8" stroke="#ffffff"/>
<line x1="58.7" y1="642.4" x2="72.6" y2="620.1" stroke="#ffffff"/>
<line x1="155.6" y1="645.5" x2="155.6" y2="660.6" stroke="#ffffff"/>
<rect x="159.8" y="648" width="1.8" height="12.6" stroke="#00ffff" fill="#00ffff" stroke-width="0.8"/>
<polyline points="155.6,657.2 159.5,657.2 161.5,659.5" stroke="#ffffff" fill="none"/>
<line x1="158.6" y1="644.8" x2="158.6" y2="665.5" stroke="#ff0000"/>
<rect x="148.3" y="661.2" width="19.3" height="2.2" stroke="#00ffff" fill="none"/>
<line x1="151.4" y1="659" x2="151.4" y2="666" stroke="#ff0000"/>
<line x1="165.5" y1="659" x2="165.5" y2="666" stroke="#ff0000"/>
<line x1="129.6" y1="670.4" x2="158.3" y2="670.4" stroke="#ffffff"/>
<line x1="129.6" y1="662.5" x2="129.6" y2="672.5" stroke="#ffffff"/>
<line x1="158.3" y1="666" x2="158.3" y2="672.5" stroke="#ffffff"/>
<rect x="132.3" y="669.2" width="2.4" height="2.4" stroke="#ffffff" fill="#ffffff"/>
<rect x="153.3" y="669.2" width="2.4" height="2.4" stroke="#ffffff" fill="#ffffff"/>
<line x1="0" y1="675.5" x2="668" y2="675.5" stroke="#00ffff"/>
<line x1="29" y1="368" x2="93.5" y2="335.2" stroke="#00ffff"/>
<line x1="31" y1="371.8" x2="97" y2="337.4" stroke="#00ffff" stroke-width="2"/>
<line x1="40.3" y1="374.6" x2="89.9" y2="349.7" stroke="#00ffff"/>
<line x1="45.2" y1="376.4" x2="91.4" y2="353.8" stroke="#00ffff"/>
<line x1="52" y1="393.9" x2="99.1" y2="369.7" stroke="#00ffff"/>
<line x1="40.3" y1="374.6" x2="52" y2="393.9" stroke="#00ffff"/>
<line x1="89.6" y1="348.6" x2="99.1" y2="369.7" stroke="#00ffff"/>
<polyline points="26.6,363.4 29.5,362.6 32.5,370.5 31.2,374.5 33,378" stroke="#00ffff" fill="none"/>
<polygon points="26.6,363.4 29.6,363 32,369.5 30,372" stroke="#00ffff" fill="#00ffff"/>
<circle cx="36.5" cy="379.7" r="2.4" stroke="#00ffff" fill="none" stroke-width="2"/>
<polyline points="88.4,337.2 97.4,331.4 103.8,342.6 98.9,345.4 90.2,349.3" stroke="#00ffff" fill="none"/>
<polygon points="94.2,335.4 98.2,333.4 102.3,341.3 98.6,343.4" stroke="#00ffff" fill="#00ffff"/>
<path d="M95.3,336 L99.5,335.6 C101,336.5 100.8,338.5 99.8,339.5 L95.6,341.5 Z" stroke="#00ff00" fill="#000000"/>
<line x1="96.8" y1="338.8" x2="99.6" y2="337.6" stroke="#ff0000"/>
<line x1="94.3" y1="332.2" x2="95.8" y2="335" stroke="#ff0000"/>
<line x1="99.2" y1="342.2" x2="101.6" y2="346.2" stroke="#ff0000"/>
<line x1="28.3" y1="362.1" x2="36.5" y2="376.6" stroke="#ff0000"/>
<polyline points="41.2,349.6 44.6,349.6 46.6,358.6" stroke="#ff0000" fill="none"/>
<line x1="41.8" y1="350" x2="45.4" y2="359" stroke="#ff0000"/>
<line x1="52.6" y1="343.9" x2="81.5" y2="392.9" stroke="#ff0000"/>
<line x1="72.5" y1="334.4" x2="72.5" y2="393.6" stroke="#ff0000" stroke-dasharray="14 2 2 2"/>
<path d="M41.9,348.9 C46,344.5 52,340.8 58,338.8 C63,337.2 68,336.4 72.7,336.3 L84,337.3" stroke="#ffffff" fill="none"/>
<rect x="47.9" y="342.4" width="2.2" height="2.2" stroke="#ffffff" fill="#ffffff"/>
<rect x="75.5" y="335.4" width="4" height="2.2" stroke="#ffffff" fill="#ffffff"/>
<rect x="87.1" y="336.7" width="2.2" height="2.2" stroke="#ffffff" fill="#ffffff"/>
<polyline points="47.5,381.6 54,378 61.5,374.4 66.7,371.4 71,370 75.7,369.2 79,366 82.5,361.7 86,359.6 91.4,357.2" stroke="#ffffff" fill="none"/>
<path d="M348.4,265.7 A31.6,17.7 0 0 1 411.6,265.7" stroke="#ffffff" fill="none"/>
<line x1="348.4" y1="265.7" x2="411.6" y2="265.7" stroke="#ffffff"/>
<line x1="348.4" y1="265.7" x2="348.4" y2="329.6" stroke="#ffffff"/>
<line x1="411.6" y1="265.7" x2="411.6" y2="329.6" stroke="#ffffff"/>
<line x1="348.4" y1="293" x2="348.4" y2="321.5" stroke="#00ffff"/>
<line x1="348.4" y1="329.6" x2="411.6" y2="329.6" stroke="#ffffff"/>
<line x1="348.4" y1="321.6" x2="338.7" y2="331" stroke="#ffffff"/>
<line x1="411.6" y1="321.6" x2="420.6" y2="331" stroke="#ffffff"/>
<line x1="339.2" y1="331" x2="339.2" y2="421" stroke="#ffffff"/>
<line x1="348.4" y1="329.6" x2="348.4" y2="421" stroke="#ffffff"/>
<line x1="411.6" y1="329.6" x2="411.6" y2="421" stroke="#ffffff"/>
<line x1="420.2" y1="331" x2="420.2" y2="421" stroke="#ffffff"/>
<line x1="334.4" y1="421" x2="352.9" y2="421" stroke="#ffffff"/>
<line x1="408.1" y1="421" x2="425.6" y2="421" stroke="#ffffff"/>
<line x1="338.7" y1="331" x2="343.4" y2="331" stroke="#ffffff"/>
<line x1="416.6" y1="331" x2="421.1" y2="331" stroke="#ffffff"/>
<line x1="348.4" y1="331.2" x2="373.7" y2="346.9" stroke="#ffffff"/>
<line x1="411.6" y1="331.2" x2="385.1" y2="346.9" stroke="#ffffff"/>
<rect x="355.8" y="236.6" width="12" height="2" stroke="#ffffff" fill="none"/>
<line x1="359.95" y1="238.6" x2="359.95" y2="251.3" stroke="#ffffff"/>
<line x1="363.65" y1="238.6" x2="363.65" y2="251.3" stroke="#ffffff"/>
<line x1="360.95" y1="237.6" x2="360.95" y2="251.3" stroke="#ff0000"/>
<line x1="357.8" y1="235.1" x2="357.8" y2="240.1" stroke="#ff0000"/>
<line x1="365.8" y1="235.1" x2="365.8" y2="240.1" stroke="#ff0000"/>
<rect x="391.9" y="236.6" width="12" height="2" stroke="#ffffff" fill="none"/>
<line x1="396.05" y1="238.6" x2="396.05" y2="251.3" stroke="#ffffff"/>
<line x1="399.75" y1="238.6" x2="399.75" y2="251.3" stroke="#ffffff"/>
<line x1="397.05" y1="237.6" x2="397.05" y2="251.3" stroke="#ff0000"/>
<line x1="393.9" y1="235.1" x2="393.9" y2="240.1" stroke="#ff0000"/>
<line x1="401.9" y1="235.1" x2="401.9" y2="240.1" stroke="#ff0000"/>
<rect x="369.3" y="234" width="20.7" height="4.8" stroke="#00ffff" fill="none"/>
<rect x="369.3" y="236.2" width="20.7" height="2.6" stroke="#00ffff" fill="#00ffff"/>
<line x1="375.5" y1="231.6" x2="384.3" y2="231.6" stroke="#00ffff"/>
<line x1="375.5" y1="242.5" x2="384.3" y2="242.5" stroke="#00ffff"/>
<line x1="375.5" y1="246.3" x2="384.3" y2="246.3" stroke="#00ffff"/>
<line x1="375.5" y1="250" x2="384.3" y2="250" stroke="#00ffff"/>
<line x1="379.6" y1="223.8" x2="379.6" y2="249.6" stroke="#ff0000"/>
<line x1="372.5" y1="232" x2="372.5" y2="242" stroke="#ff0000"/>
<line x1="387.5" y1="232" x2="387.5" y2="242" stroke="#ff0000"/>
<line x1="384.3" y1="295.2" x2="375.5" y2="307.3" stroke="#e6007e"/>
<line x1="365.7" y1="257.1" x2="365.7" y2="342.9" stroke="#e6007e"/>
<line x1="348.4" y1="321.6" x2="411.6" y2="321.6" stroke="#00ffff"/>
<rect x="351.2" y="320.6" width="2.3" height="2" stroke="#00ffff" fill="#00ffff"/>
<rect x="406.5" y="320.6" width="2.4" height="2" stroke="#00ffff" fill="#00ffff"/>
<line x1="411.6" y1="265.7" x2="445" y2="265.7" stroke="#00ffff"/>
<line x1="411.6" y1="329.6" x2="445" y2="329.6" stroke="#00ffff"/>
<line x1="432.4" y1="265.7" x2="432.4" y2="329.6" stroke="#00ffff"/>
<rect x="431.2" y="267.5" width="2.4" height="4" stroke="#00ffff" fill="#00ffff"/>
<rect x="431.2" y="323" width="2.4" height="4" stroke="#00ffff" fill="#00ffff"/>
<line x1="374.6" y1="347.1" x2="374.6" y2="356" stroke="#ffffff"/>
<line x1="384.4" y1="347.1" x2="384.4" y2="356" stroke="#ffffff"/>
<line x1="374.6" y1="347.1" x2="384.4" y2="347.1" stroke="#ffffff"/>
<rect x="369.2" y="356.2" width="20.8" height="1.7" stroke="#ffffff" fill="#ffffff"/>
<line x1="379.4" y1="344.7" x2="379.4" y2="359" stroke="#ff0000"/>
<line x1="372.6" y1="353.2" x2="372.6" y2="360" stroke="#ff0000"/>
<line x1="387.4" y1="353.2" x2="387.4" y2="360" stroke="#ff0000"/>
<line x1="375.5" y1="352.3" x2="384" y2="352.3" stroke="#00ffff"/>
<rect x="325" y="279" width="3" height="11.2" stroke="#ffffff" fill="none"/>
<rect x="335.9" y="279" width="3" height="11.2" stroke="#ffffff" fill="none"/>
<rect x="328" y="280.8" width="7.9" height="8.7" stroke="#e6007e" fill="none"/>
<line x1="338.9" y1="282.8" x2="348.4" y2="282.8" stroke="#ffffff"/>
<line x1="338.9" y1="286.6" x2="348.4" y2="286.6" stroke="#ffffff"/>
<line x1="339" y1="284" x2="348.4" y2="284" stroke="#ff0000"/>
<line x1="322" y1="266.4" x2="333.8" y2="275.2" stroke="#e6007e"/>
<line x1="333.8" y1="275.2" x2="333.8" y2="279" stroke="#e6007e"/>
<polyline points="203.8,312.7 295.3,312.7 295.3,337.7 315.4,337.7 315.4,283.8 325,283.8" stroke="#ffffff" fill="none"/>
<polyline points="207,315.7 292.8,315.7 292.8,340.2 318.6,340.2 318.6,286.8 325,286.8" stroke="#ffffff" fill="none"/>
<line x1="318.6" y1="290" x2="318.6" y2="311.4" stroke="#e6007e"/>
<rect x="303.3" y="340.2" width="3.3" height="7.1" stroke="#e6007e" fill="none"/>
<line x1="293.5" y1="338.9" x2="295" y2="338.9" stroke="#e6007e"/>
<line x1="294.3" y1="312.7" x2="294.3" y2="315.5" stroke="#e6007e"/>
<line x1="203.8" y1="312.7" x2="203.8" y2="393" stroke="#ffffff"/>
<line x1="207" y1="315.7" x2="207" y2="396" stroke="#ffffff"/>
<path d="M472.6,265.7 A31.95,17.7 0 0 1 536.5,265.7" stroke="#ffffff" fill="none"/>
<line x1="472.6" y1="265.7" x2="536.5" y2="265.7" stroke="#ffffff"/>
<line x1="472.6" y1="265.7" x2="472.6" y2="329.6" stroke="#ffffff"/>
<line x1="536.5" y1="265.7" x2="536.5" y2="329.6" stroke="#ffffff"/>
<line x1="472.6" y1="293" x2="472.6" y2="321.5" stroke="#00ffff"/>
<line x1="472.6" y1="329.6" x2="536.5" y2="329.6" stroke="#ffffff"/>
<line x1="472.6" y1="321.6" x2="462.9" y2="331" stroke="#ffffff"/>
<line x1="536.5" y1="321.6" x2="545.5" y2="331" stroke="#ffffff"/>
<line x1="463.4" y1="331" x2="463.4" y2="421" stroke="#ffffff"/>
<line x1="472.6" y1="329.6" x2="472.6" y2="421" stroke="#ffffff"/>
<line x1="536.5" y1="329.6" x2="536.5" y2="421" stroke="#ffffff"/>
<line x1="545.1" y1="331" x2="545.1" y2="421" stroke="#ffffff"/>
<line x1="458.6" y1="421" x2="477.1" y2="421" stroke="#ffffff"/>
<line x1="533" y1="421" x2="550.5" y2="421" stroke="#ffffff"/>
<line x1="462.9" y1="331" x2="467.6" y2="331" stroke="#ffffff"/>
<line x1="541.5" y1="331" x2="546" y2="331" stroke="#ffffff"/>
<path d="M472.6,329.6 A31.94999999999999,17.2 0 0 0 536.5,329.6" stroke="#e6007e" fill="none"/>
<rect x="479.8" y="237" width="12" height="2" stroke="#ffffff" fill="none"/>
<line x1="483.95" y1="239" x2="483.95" y2="250" stroke="#ffffff"/>
<line x1="487.65" y1="239" x2="487.65" y2="250" stroke="#ffffff"/>
<line x1="484.95" y1="238" x2="484.95" y2="250" stroke="#ff0000"/>
<line x1="481.8" y1="235.5" x2="481.8" y2="240.5" stroke="#ff0000"/>
<line x1="489.8" y1="235.5" x2="489.8" y2="240.5" stroke="#ff0000"/>
<rect x="516.8" y="237" width="12" height="2" stroke="#ffffff" fill="none"/>
<line x1="520.95" y1="239" x2="520.95" y2="250" stroke="#00ffff"/>
<line x1="524.65" y1="239" x2="524.65" y2="250" stroke="#00ffff"/>
<line x1="518.8" y1="235.5" x2="518.8" y2="240.5" stroke="#ff0000"/>
<line x1="526.8" y1="235.5" x2="526.8" y2="240.5" stroke="#ff0000"/>
<rect x="496.4" y="237" width="16.3" height="2" stroke="#ffffff" fill="none"/>
<line x1="500.2" y1="239" x2="500.2" y2="249" stroke="#ffffff"/>
<line x1="508.8" y1="239" x2="508.8" y2="249" stroke="#ffffff"/>
<line x1="500.2" y1="243" x2="508.8" y2="243" stroke="#00ffff"/>
<line x1="500.2" y1="246" x2="508.8" y2="246" stroke="#00ffff"/>
<line x1="504.4" y1="236.3" x2="504.4" y2="250.1" stroke="#ff0000"/>
<line x1="498.6" y1="234.8" x2="498.6" y2="241.5" stroke="#ff0000"/>
<line x1="510.5" y1="234.8" x2="510.5" y2="241.5" stroke="#ff0000"/>
<line x1="472.6" y1="314.5" x2="536.5" y2="314.5" stroke="#00ffff"/>
<rect x="475.7" y="313.5" width="2.8" height="2" stroke="#00ffff" fill="#00ffff"/>
<rect x="530.4" y="313.5" width="2.8" height="2" stroke="#00ffff" fill="#00ffff"/>
<line x1="536.5" y1="265.7" x2="564.6" y2="265.7" stroke="#00ffff"/>
<line x1="536.5" y1="329.6" x2="564.6" y2="329.6" stroke="#00ffff"/>
<line x1="558.4" y1="265.7" x2="558.4" y2="329.6" stroke="#00ffff"/>
<rect x="557.2" y="267.5" width="2.4" height="4" stroke="#00ffff" fill="#00ffff"/>
<rect x="557.2" y="323" width="2.4" height="4" stroke="#00ffff" fill="#00ffff"/>
<line x1="499.6" y1="347.1" x2="499.6" y2="356" stroke="#ffffff"/>
<line x1="509.6" y1="347.1" x2="509.6" y2="356" stroke="#ffffff"/>
<line x1="499.6" y1="347.1" x2="509.6" y2="347.1" stroke="#ffffff"/>
<rect x="494.2" y="356.2" width="20.8" height="1.7" stroke="#ffffff" fill="#ffffff"/>
<line x1="500.5" y1="352.3" x2="509" y2="352.3" stroke="#00ffff"/>
<line x1="504.5" y1="344.7" x2="504.5" y2="359" stroke="#ff0000"/>
<line x1="496.7" y1="353.2" x2="496.7" y2="360" stroke="#ff0000"/>
<line x1="511.5" y1="353.2" x2="511.5" y2="360" stroke="#ff0000"/>
<path d="M583.9,265.7 A32,17.7 0 0 1 647.9,265.7" stroke="#ffffff" fill="none"/>
<line x1="583.9" y1="265.7" x2="647.9" y2="265.7" stroke="#ffffff"/>
<line x1="583.9" y1="265.7" x2="583.9" y2="329.6" stroke="#ffffff"/>
<line x1="647.9" y1="265.7" x2="647.9" y2="329.6" stroke="#ffffff"/>
<line x1="583.9" y1="293" x2="583.9" y2="321.5" stroke="#00ffff"/>
<line x1="583.9" y1="329.6" x2="647.9" y2="329.6" stroke="#ffffff"/>
<line x1="583.9" y1="321.6" x2="574.2" y2="331" stroke="#ffffff"/>
<line x1="647.9" y1="321.6" x2="656.9" y2="331" stroke="#ffffff"/>
<line x1="574.7" y1="331" x2="574.7" y2="421" stroke="#ffffff"/>
<line x1="583.9" y1="329.6" x2="583.9" y2="421" stroke="#ffffff"/>
<line x1="647.9" y1="329.6" x2="647.9" y2="421" stroke="#ffffff"/>
<line x1="656.5" y1="331" x2="656.5" y2="421" stroke="#ffffff"/>
<line x1="569.9" y1="421" x2="588.4" y2="421" stroke="#ffffff"/>
<line x1="644.4" y1="421" x2="661.9" y2="421" stroke="#ffffff"/>
<line x1="574.2" y1="331" x2="578.9" y2="331" stroke="#ffffff"/>
<line x1="652.9" y1="331" x2="657.4" y2="331" stroke="#ffffff"/>
<path d="M583.9,329.6 A32.0,17.2 0 0 0 647.9,329.6" stroke="#e6007e" fill="none"/>
<rect x="591.4" y="237" width="12" height="2" stroke="#ffffff" fill="none"/>
<line x1="595.55" y1="239" x2="595.55" y2="250" stroke="#ffffff"/>
<line x1="599.25" y1="239" x2="599.25" y2="250" stroke="#ffffff"/>
<line x1="593.4" y1="235.5" x2="593.4" y2="240.5" stroke="#ff0000"/>
<line x1="601.4" y1="235.5" x2="601.4" y2="240.5" stroke="#ff0000"/>
<line x1="598.5" y1="239" x2="598.5" y2="250" stroke="#00ffff"/>
<rect x="628.2" y="237" width="12" height="2" stroke="#ffffff" fill="none"/>
<line x1="632.35" y1="239" x2="632.35" y2="250" stroke="#ffffff"/>
<line x1="636.05" y1="239" x2="636.05" y2="250" stroke="#ffffff"/>
<line x1="630.2" y1="235.5" x2="630.2" y2="240.5" stroke="#ff0000"/>
<line x1="638.2" y1="235.5" x2="638.2" y2="240.5" stroke="#ff0000"/>
<rect x="606.5" y="237" width="17.5" height="2" stroke="#ffffff" fill="none"/>
<line x1="611.5" y1="239" x2="611.5" y2="249" stroke="#ffffff"/>
<line x1="620.3" y1="239" x2="620.3" y2="249" stroke="#ffffff"/>
<line x1="611.5" y1="243" x2="620.3" y2="243" stroke="#ffffff"/>
<line x1="611.5" y1="246" x2="620.3" y2="246" stroke="#ffffff"/>
<line x1="615.8" y1="236.3" x2="615.8" y2="250.1" stroke="#ff0000"/>
<line x1="609" y1="234.8" x2="609" y2="241.5" stroke="#ff0000"/>
<line x1="622" y1="234.8" x2="622" y2="241.5" stroke="#ff0000"/>
<line x1="583.9" y1="314.6" x2="647.9" y2="314.6" stroke="#00ffff"/>
<rect x="586.4" y="313.6" width="3" height="2" stroke="#00ffff" fill="#00ffff"/>
<rect x="641.4" y="313.6" width="2.9" height="2" stroke="#00ffff" fill="#00ffff"/>
<line x1="647.9" y1="265.7" x2="668" y2="265.7" stroke="#00ffff"/>
<line x1="647.9" y1="329.6" x2="668" y2="329.6" stroke="#00ffff"/>
<line x1="664.7" y1="265.7" x2="664.7" y2="329.6" stroke="#00ffff"/>
<rect x="663.5" y="267.5" width="2.4" height="4" stroke="#00ffff" fill="#00ffff"/>
<rect x="663.5" y="323" width="2.4" height="4" stroke="#00ffff" fill="#00ffff"/>
<line x1="610.8" y1="347.1" x2="610.8" y2="356" stroke="#ffffff"/>
<line x1="620.8" y1="347.1" x2="620.8" y2="356" stroke="#ffffff"/>
<line x1="610.8" y1="347.1" x2="620.8" y2="347.1" stroke="#ffffff"/>
<rect x="605.4" y="356.2" width="20.8" height="1.7" stroke="#ffffff" fill="#ffffff"/>
<line x1="611.7" y1="352.3" x2="620.2" y2="352.3" stroke="#00ffff"/>
<line x1="615.7" y1="344.7" x2="615.7" y2="359" stroke="#ff0000"/>
<line x1="608" y1="353.2" x2="608" y2="360" stroke="#ff0000"/>
<line x1="622.8" y1="353.2" x2="622.8" y2="360" stroke="#ff0000"/>
<rect x="165.3" y="339.3" width="47.6" height="2.6" stroke="#ffffff" fill="none"/>
<rect x="165.3" y="344.1" width="47.6" height="2.6" stroke="#ffffff" fill="none"/>
<line x1="168.2" y1="343" x2="210.3" y2="343" stroke="#00ff00"/>
<line x1="167.5" y1="335.9" x2="167.5" y2="349.7" stroke="#ff0000"/>
<line x1="211.6" y1="335.9" x2="211.6" y2="349.7" stroke="#ff0000"/>
<rect x="165.3" y="355.2" width="47.6" height="2.6" stroke="#ffffff" fill="none"/>
<rect x="165.3" y="360" width="47.6" height="2.6" stroke="#ffffff" fill="none"/>
<line x1="168.2" y1="358.9" x2="203.4" y2="358.9" stroke="#00ff00"/>
<line x1="167.5" y1="351.8" x2="167.5" y2="365.6" stroke="#ff0000"/>
<line x1="211.6" y1="351.8" x2="211.6" y2="365.6" stroke="#ff0000"/>
<line x1="212.6" y1="358.3" x2="246.4" y2="358.3" stroke="#00ffff"/>
<polyline points="198.8,352.3 212.6,359 226.4,367.3 280.8,367.3" stroke="#ffffff" fill="none"/>
<polyline points="196.5,349.8 198.8,352.3 195.8,351.6" stroke="#ffffff" fill="none"/>
<g transform="translate(486.7 555.4) rotate(45)">
<rect x="-10" y="-116.5" width="20" height="28" stroke="#00ffff" fill="none"/>
<line x1="-8.4" y1="-116.5" x2="-8.4" y2="-88.5" stroke="#00ffff"/>
<line x1="8.5" y1="-116.5" x2="8.5" y2="-102.5" stroke="#00ffff"/>
<line x1="7" y1="-116.5" x2="7" y2="-102.5" stroke="#00ffff"/>
<line x1="-8.4" y1="-102.5" x2="10" y2="-102.5" stroke="#00ffff"/>
<line x1="-13" y1="-89.4" x2="4" y2="-89.4" stroke="#00ffff" stroke-width="2"/>
<circle cx="0" cy="-110.5" r="2" stroke="#00ffff" fill="none"/>
<line x1="0" y1="-114.5" x2="0" y2="-85.5" stroke="#ff0000"/>
</g>
<g transform="translate(486.7 555.4) rotate(135)">
<rect x="-10" y="-116.5" width="20" height="28" stroke="#00ffff" fill="none"/>
<line x1="-8.4" y1="-116.5" x2="-8.4" y2="-88.5" stroke="#00ffff"/>
<line x1="8.5" y1="-116.5" x2="8.5" y2="-102.5" stroke="#00ffff"/>
<line x1="7" y1="-116.5" x2="7" y2="-102.5" stroke="#00ffff"/>
<line x1="-8.4" y1="-102.5" x2="10" y2="-102.5" stroke="#00ffff"/>
<line x1="-13" y1="-89.4" x2="4" y2="-89.4" stroke="#00ffff" stroke-width="2"/>
<circle cx="0" cy="-110.5" r="2" stroke="#00ffff" fill="none"/>
<line x1="0" y1="-114.5" x2="0" y2="-85.5" stroke="#ff0000"/>
</g>
<g transform="translate(486.7 555.4) rotate(225)">
<rect x="-10" y="-116.5" width="20" height="28" stroke="#00ffff" fill="none"/>
<line x1="-8.4" y1="-116.5" x2="-8.4" y2="-88.5" stroke="#00ffff"/>
<line x1="8.5" y1="-116.5" x2="8.5" y2="-102.5" stroke="#00ffff"/>
<line x1="7" y1="-116.5" x2="7" y2="-102.5" stroke="#00ffff"/>
<line x1="-8.4" y1="-102.5" x2="10" y2="-102.5" stroke="#00ffff"/>
<line x1="-13" y1="-89.4" x2="4" y2="-89.4" stroke="#00ffff" stroke-width="2"/>
<circle cx="0" cy="-110.5" r="2" stroke="#00ffff" fill="none"/>
<line x1="0" y1="-114.5" x2="0" y2="-85.5" stroke="#ff0000"/>
</g>
<g transform="translate(486.7 555.4) rotate(315)">
<rect x="-10" y="-116.5" width="20" height="28" stroke="#00ffff" fill="none"/>
<line x1="-8.4" y1="-116.5" x2="-8.4" y2="-88.5" stroke="#00ffff"/>
<line x1="8.5" y1="-116.5" x2="8.5" y2="-102.5" stroke="#00ffff"/>
<line x1="7" y1="-116.5" x2="7" y2="-102.5" stroke="#00ffff"/>
<line x1="-8.4" y1="-102.5" x2="10" y2="-102.5" stroke="#00ffff"/>
<line x1="-13" y1="-89.4" x2="4" y2="-89.4" stroke="#00ffff" stroke-width="2"/>
<circle cx="0" cy="-110.5" r="2" stroke="#00ffff" fill="none"/>
<line x1="0" y1="-114.5" x2="0" y2="-85.5" stroke="#ff0000"/>
</g>
<rect x="467.4" y="642.7" width="37.3" height="5.5" stroke="#00ffff" fill="#000000"/>
<circle cx="486.7" cy="555.4" r="89.5" stroke="#00ffff" fill="none"/>
<circle cx="486.7" cy="555.4" r="83.8" stroke="#00ffff" fill="none"/>
<circle cx="486.7" cy="555.4" r="57" stroke="#ff0000" fill="none"/>
<line x1="486.7" y1="555.4" x2="486.7" y2="450.4" stroke="#ff0000"/>
<line x1="486.7" y1="555.4" x2="486.7" y2="649.4" stroke="#ff0000"/>
<line x1="486.7" y1="555.4" x2="376.7" y2="555.4" stroke="#ff0000"/>
<line x1="486.7" y1="555.4" x2="581.2" y2="555.4" stroke="#ff0000"/>
<line x1="486.7" y1="555.4" x2="541.15" y2="500.95" stroke="#ff0000"/>
<line x1="486.7" y1="555.4" x2="533.37" y2="602.07" stroke="#ff0000"/>
<line x1="486.7" y1="555.4" x2="432.25" y2="609.85" stroke="#ff0000"/>
<line x1="486.7" y1="555.4" x2="432.25" y2="500.95" stroke="#ff0000"/>
<line x1="486.7" y1="555.4" x2="567.08" y2="522.11" stroke="#ff0000"/>
<line x1="486.7" y1="555.4" x2="568.46" y2="589.27" stroke="#ff0000"/>
<circle cx="486.6" cy="498.4" r="14.2" stroke="#00ffff" fill="#000000"/>
<circle cx="486.6" cy="498.4" r="12.3" stroke="#ff0000" fill="none"/>
<circle cx="486.6" cy="498.4" r="10.4" stroke="#00ffff" fill="none"/>
<line x1="477.2" y1="498.4" x2="496" y2="498.4" stroke="#ff0000"/>
<line x1="486.6" y1="483.2" x2="486.6" y2="513.6" stroke="#ff0000"/>
<circle cx="429.7" cy="555.4" r="14.2" stroke="#00ffff" fill="#000000"/>
<circle cx="429.7" cy="555.4" r="12.3" stroke="#ff0000" fill="none"/>
<circle cx="429.7" cy="555.4" r="10.4" stroke="#00ffff" fill="none"/>
<line x1="420.3" y1="555.4" x2="439.1" y2="555.4" stroke="#ff0000"/>
<line x1="429.7" y1="540.2" x2="429.7" y2="570.6" stroke="#ff0000"/>
<circle cx="526" cy="514.7" r="9.7" stroke="#00ffff" fill="#000000"/>
<circle cx="526" cy="514.7" r="7.6" stroke="#ff0000" fill="none"/>
<circle cx="526" cy="514.7" r="5.7" stroke="#00ffff" fill="none"/>
<line x1="522.01" y1="510.71" x2="529.99" y2="518.69" stroke="#ff0000"/>
<line x1="522.01" y1="518.69" x2="529.99" y2="510.71" stroke="#ff0000"/>
<circle cx="446.6" cy="593.8" r="9.6" stroke="#00ffff" fill="#000000"/>
<circle cx="446.6" cy="593.8" r="7.6" stroke="#ff0000" fill="none"/>
<circle cx="446.6" cy="593.8" r="5.7" stroke="#00ffff" fill="none"/>
<line x1="442.61" y1="589.81" x2="450.59" y2="597.79" stroke="#ff0000"/>
<line x1="442.61" y1="597.79" x2="450.59" y2="589.81" stroke="#ff0000"/>
<circle cx="553.8" cy="582.9" r="9.7" stroke="#00ffff" fill="#000000"/>
<circle cx="553.8" cy="582.9" r="7" stroke="#ff0000" fill="none"/>
<circle cx="553.8" cy="582.9" r="2.2" stroke="#00ffff" fill="none"/>
<line x1="552.6" y1="582.9" x2="555" y2="582.9" stroke="#ff0000"/>
<line x1="553.8" y1="572.2" x2="553.8" y2="593.6" stroke="#ff0000"/>
<circle cx="553.8" cy="582.9" r="2.3" stroke="#ff00ff" fill="none"/>
<circle cx="538.3" cy="533.2" r="3" stroke="#00ffff" fill="#000000"/>
<circle cx="538.3" cy="533.2" r="1.4" stroke="#ff00ff" fill="none" stroke-width="1.5"/>
<circle cx="446.5" cy="514.2" r="10.3" stroke="#00ffff" fill="#000000" stroke-width="2.2"/>
<circle cx="446.5" cy="514.2" r="8" stroke="#ff0000" fill="none" stroke-width="1.8" stroke-dasharray="2.6 2.4"/>
<circle cx="446.5" cy="514.2" r="5.9" stroke="#ffffff" fill="#ffffff"/>
<rect x="443.8" y="511.2" width="0.8" height="0.8" stroke="#000000" fill="#000000" stroke-width="0.4"/>
<rect x="448.7" y="511.2" width="0.8" height="0.8" stroke="#ff0000" fill="#ff0000" stroke-width="0.4"/>
<rect x="443.8" y="516.1" width="0.8" height="0.8" stroke="#ff0000" fill="#ff0000" stroke-width="0.4"/>
<rect x="448.7" y="516.1" width="0.8" height="0.8" stroke="#000000" fill="#000000" stroke-width="0.4"/>
<rect x="443" y="505.79" width="1.4" height="1.4" stroke="#00ff00" fill="#00ff00" stroke-width="0.3"/>
<rect x="448.6" y="521.21" width="1.4" height="1.4" stroke="#00ff00" fill="#00ff00" stroke-width="0.3"/>
<circle cx="526.2" cy="593.6" r="10.3" stroke="#00ffff" fill="#000000" stroke-width="2.2"/>
<circle cx="526.2" cy="593.6" r="8" stroke="#ff0000" fill="none" stroke-width="1.8" stroke-dasharray="2.6 2.4"/>
<circle cx="526.2" cy="593.6" r="5.9" stroke="#ffffff" fill="#ffffff"/>
<rect x="523.5" y="590.6" width="0.8" height="0.8" stroke="#000000" fill="#000000" stroke-width="0.4"/>
<rect x="528.4" y="590.6" width="0.8" height="0.8" stroke="#ff0000" fill="#ff0000" stroke-width="0.4"/>
<rect x="523.5" y="595.5" width="0.8" height="0.8" stroke="#ff0000" fill="#ff0000" stroke-width="0.4"/>
<rect x="528.4" y="595.5" width="0.8" height="0.8" stroke="#000000" fill="#000000" stroke-width="0.4"/>
<rect x="522.7" y="585.19" width="1.4" height="1.4" stroke="#00ff00" fill="#00ff00" stroke-width="0.3"/>
<rect x="528.3" y="600.61" width="1.4" height="1.4" stroke="#00ff00" fill="#00ff00" stroke-width="0.3"/>
<circle cx="486.7" cy="555.4" r="28.2" stroke="#00ffff" fill="none"/>
<circle cx="486.7" cy="555.4" r="25.6" stroke="#ff0000" fill="none"/>
<circle cx="486.7" cy="555.4" r="22.3" stroke="#ff00ff" fill="none" stroke-width="1.4" stroke-dasharray="6 3"/>
<circle cx="486.7" cy="555.4" r="17.6" stroke="#00ffff" fill="none"/>
<circle cx="516.8" cy="555.2" r="9.1" stroke="#ff00ff" fill="none" stroke-width="1.3" stroke-dasharray="4 2"/>
<circle cx="516.8" cy="555.2" r="7" stroke="#ff0000" fill="none"/>
<circle cx="516.8" cy="555.2" r="5.2" stroke="#ff00ff" fill="none"/>
<line x1="516.8" y1="544" x2="516.8" y2="566.5" stroke="#ff0000"/>
<line x1="513" y1="547" x2="513" y2="563" stroke="#ff0000"/>
<line x1="505" y1="555.3" x2="528" y2="555.3" stroke="#ff0000"/>
<circle cx="544.6" cy="555.3" r="12" stroke="#00ffff" fill="none"/>
<circle cx="543" cy="555.3" r="9.6" stroke="#ff0000" fill="none"/>
<circle cx="549.3" cy="555.3" r="9.4" stroke="#ff00ff" fill="none" stroke-width="1.3" stroke-dasharray="4 2"/>
<ellipse cx="547" cy="555.3" rx="4.4" ry="6.2" stroke="#ff00ff" fill="none"/>
<ellipse cx="545" cy="555.3" rx="3.8" ry="7.2" stroke="#ff0000" fill="none"/>
<line x1="541.5" y1="543.5" x2="541.5" y2="567" stroke="#ff0000"/>
<line x1="549.7" y1="543.5" x2="549.7" y2="567.5" stroke="#ff0000"/>
<path d="M533.39,588.09 A57,57 0 0 1 520.2,601.51" stroke="#ff0000" fill="none"/>
<ellipse cx="486.6" cy="618.4" rx="31.1" ry="17.6" stroke="#00ffff" fill="#000000"/>
<ellipse cx="486.6" cy="618.4" rx="27.4" ry="12.9" stroke="#ff0000" fill="none"/>
<line x1="453.8" y1="618.4" x2="525.5" y2="618.4" stroke="#ff0000" stroke-dasharray="14 2 2 2"/>
<line x1="486.6" y1="598" x2="486.6" y2="649.2" stroke="#ff0000"/>
<rect x="481.3" y="599" width="11.1" height="6" stroke="#00ffff" fill="#000000"/>
<polygon points="481.3,599 492.4,599 492.4,602 490.5,605 483.3,605 481.3,602" stroke="#00ffff" fill="none"/>
<rect x="487.5" y="599" width="4.9" height="2.6" stroke="#00ffff" fill="#00ffff"/>
<line x1="483" y1="600.6" x2="490" y2="600.6" stroke="#ff0000"/>
<line x1="483.5" y1="600" x2="483.5" y2="604" stroke="#ff0000"/>
<line x1="490" y1="600" x2="490" y2="604" stroke="#ff0000"/>
<polygon points="476.3,624.3 476.3,628.6 478,630.3 495,630.3 496.8,628.6 496.8,624.3 495.2,623 494,627.3 479.5,627.3 478.6,624.3" stroke="#00ffff" fill="none"/>
<line x1="478.5" y1="628.8" x2="495" y2="628.8" stroke="#ff0000"/>
<line x1="479" y1="611.6" x2="495" y2="611.6" stroke="#ff0000"/>
<rect x="381.4" y="545.4" width="3.6" height="20" stroke="#00ffff" fill="none"/>
<line x1="385" y1="552.4" x2="397.6" y2="552.4" stroke="#00ffff"/>
<line x1="385" y1="557.9" x2="397.6" y2="557.9" stroke="#00ffff"/>
<line x1="380" y1="547.3" x2="386.5" y2="547.3" stroke="#ff0000"/>
<line x1="380" y1="563.5" x2="386.5" y2="563.5" stroke="#ff0000"/>
<g filter="url(#pxx)">
<text font-size="20.71" fill="#ffffff" transform="translate(25.8 19.72) rotate(90) scale(0.944 1)">2000L</text>
<text font-size="26" fill="#00ff00" transform="translate(332.99 44.03) rotate(10) scale(0.810 1)">1500</text>
</g>
<g filter="url(#pxb)">
<text font-size="15.51" fill="#ffff00" transform="translate(180.7 160.4) scale(0.961 1)">5m<tspan x="21.15" y="-6.3" font-size="11.71">2</tspan></text>
</g>
<g filter="url(#pxm)">
<text font-size="14.48" fill="#ffff00" transform="translate(214.89 44.9) scale(0.859 1)">k2</text>
<text font-size="14.43" fill="#ffff00" transform="translate(256.05 52.7) scale(0.909 1)">m2</text>
<text font-size="16.81" fill="#ffff00" transform="translate(249.2 86.9) scale(0.871 1)">15m<tspan x="31.83" y="-6.6" font-size="10.71">2</tspan></text>
<text font-size="15.03" fill="#ffff00" transform="translate(515.83 96) scale(0.892 1)">b5</text>
<text font-size="14.71" fill="#ffff00" transform="translate(146.04 132.1) scale(0.901 1)">n2</text>
<text font-size="14.14" fill="#ffff00" transform="translate(348.86 235.1) scale(1.027 1)">r3</text>
<text font-size="14.86" fill="#ffff00" transform="translate(385.87 231.1) scale(0.966 1)">r2</text>
<text font-size="14.64" fill="#ffff00" transform="translate(400.99 235.1) scale(0.956 1)">r4</text>
<text font-size="15.07" fill="#ffff00" transform="translate(334.67 278) scale(0.949 1)">r5</text>
<text font-size="15.43" fill="#ffff00" transform="translate(376.21 375.7) scale(0.891 1)">r6</text>
<text font-size="14.9" fill="#ffff00" transform="translate(497.15 233.9) scale(0.883 1)">b2</text>
<text font-size="14.9" fill="#ffff00" transform="translate(517.92 233.9) scale(0.905 1)">b3</text>
<text font-size="14.9" fill="#ffff00" transform="translate(500.96 375.7) scale(0.872 1)">b4</text>
<text font-size="15.31" fill="#ffff00" transform="translate(610.5 233.9) scale(0.819 1)">d2</text>
<text font-size="15.31" fill="#ffff00" transform="translate(628.39 233.9) scale(0.834 1)">d3</text>
<text font-size="14.9" fill="#ffff00" transform="translate(612.79 375.7) scale(0.858 1)">d4</text>
<text font-size="16" fill="#00ff00" transform="translate(480.23 309.9) scale(0.885 1)"><tspan x="-0.05" textLength="8.71" lengthAdjust="spacingAndGlyphs">Ø</tspan><tspan x="8.9">700X6</tspan></text>
<text font-size="19.14" fill="#00ff00" transform="translate(555.3 309.14) rotate(-90) scale(0.768 1)">750</text>
<text font-size="13.71" fill="#00ff00" transform="translate(595.33 309.1) scale(0.851 1)"><tspan x="-0.04" textLength="7.47" lengthAdjust="spacingAndGlyphs">Ø</tspan><tspan x="7.63">700X5</tspan></text>
<text font-size="17" fill="#00ff00" transform="translate(660.8 309.23) rotate(-90) scale(0.861 1)">750</text>
<text font-size="11.01" fill="#ffffff" transform="translate(17.88 349.6) scale(0.452 1)" font-weight="700">N1,N2a,b</text>
<text font-size="10.71" fill="#00ff00" transform="translate(56.24 338.2) scale(0.608 1)" font-weight="700">30°</text>
<text font-size="9" fill="#00ff00" transform="translate(11.3 430.55) rotate(-90) scale(0.788 1)" font-weight="700">200</text>
<text font-size="9.28" fill="#ffffff" transform="translate(8.48 448) scale(0.538 1)" font-weight="700">N11</text>
<text font-size="7.57" fill="#00ff00" transform="translate(25.3 539.47) rotate(-90) scale(0.947 1)" font-weight="700">110</text>
<text font-size="9.14" fill="#00ff00" transform="translate(143.7 390.4) scale(0.827 1)" font-weight="700"><tspan x="0" textLength="4.98" lengthAdjust="spacingAndGlyphs">Ø</tspan><tspan x="5.08">70</tspan></text>
<text font-size="10" fill="#00ff00" transform="translate(138.57 429.6) scale(0.655 1)" font-weight="700">63-96M/分</text>
<text font-size="9" fill="#00ff00" transform="translate(187.7 428.95) rotate(-90) scale(0.649 1)" font-weight="700">35</text>
<text font-size="9" fill="#00ff00" transform="translate(140.12 521.5) scale(0.783 1)" font-weight="700"><tspan x="0" textLength="4.9" lengthAdjust="spacingAndGlyphs">Ø</tspan><tspan x="5.01">850</tspan></text>
<text font-size="8.86" fill="#00ff00" transform="translate(161.5 539.41) rotate(-90) scale(0.802 1)" font-weight="700">80</text>
<text font-size="8.86" fill="#00ff00" transform="translate(139.94 568.4) scale(0.744 1)" font-weight="700"><tspan x="0" textLength="4.82" lengthAdjust="spacingAndGlyphs">Ø</tspan><tspan x="4.93">1300</tspan></text>
<text font-size="8.86" fill="#00ff00" transform="translate(223.8 568.4) scale(0.753 1)" font-weight="700">8</text>
<text font-size="9" fill="#00ff00" transform="translate(138.92 580) scale(0.778 1)" font-weight="700"><tspan x="0" textLength="4.9" lengthAdjust="spacingAndGlyphs">Ø</tspan><tspan x="5.01">200</tspan></text>
<text font-size="8.86" fill="#00ff00" transform="translate(15.24 589.16) rotate(-32) scale(0.856 1)" font-weight="700"><tspan x="0" textLength="4.82" lengthAdjust="spacingAndGlyphs">Ø</tspan><tspan x="4.93">1563</tspan></text>
<text font-size="8.57" fill="#00ff00" transform="translate(252.6 451.51) rotate(-90) scale(0.818 1)" font-weight="700">400</text>
<text font-size="8.43" fill="#00ff00" transform="translate(262.4 511.99) rotate(-90) scale(0.706 1)" font-weight="700">1500</text>
<text font-size="8.86" fill="#00ff00" transform="translate(262.5 628.17) rotate(-90) scale(0.782 1)" font-weight="700">325</text>
<text font-size="9.42" fill="#00ff00" transform="translate(54.51 644.28) rotate(-30) scale(0.919 1)" font-weight="700">R</text>
<text font-size="10.29" fill="#ffffff" transform="translate(110.31 664) scale(0.579 1)" font-weight="700">N10</text>
<text font-size="9.42" fill="#ffffff" transform="translate(163.94 674.8) scale(0.591 1)" font-weight="700">N17</text>
<text font-size="9.57" fill="#00ff00" transform="translate(137.95 671.2) scale(0.741 1)" font-weight="700">240</text>
<text font-size="9.57" fill="#ffffff" transform="translate(220.26 379.9) scale(0.539 1)" font-weight="700">N3,N4,N5,N6,N7,N8,N9</text>
<text font-size="10.87" fill="#ffffff" transform="translate(488.45 453.8) scale(0.581 1)" font-weight="700">0°</text>
<text font-size="10" fill="#ffffff" transform="translate(572.79 472.6) scale(0.737 1)" font-weight="700">45°</text>
<text font-size="11.01" fill="#ffffff" transform="translate(573.67 519.8) scale(0.605 1)" font-weight="700">67.5°</text>
<text font-size="10.87" fill="#ffffff" transform="translate(582.77 557) scale(0.610 1)" font-weight="700">90°</text>
<text font-size="11.01" fill="#ffffff" transform="translate(575.04 594.9) scale(0.504 1)" font-weight="700">112.5°</text>
<text font-size="10.87" fill="#ffffff" transform="translate(567.55 646) scale(0.634 1)" font-weight="700">135°</text>
<text font-size="11.3" fill="#ffffff" transform="translate(478.77 658) scale(0.587 1)" font-weight="700">180°</text>
<text font-size="10.87" fill="#ffffff" transform="translate(387.76 647.5) scale(0.625 1)" font-weight="700">225°</text>
<text font-size="9.13" fill="#ffffff" transform="translate(359.77 552.9) scale(0.716 1)" font-weight="700">270°</text>
<text font-size="11.01" fill="#ffffff" transform="translate(389.65 471.6) scale(0.554 1)" font-weight="700">315°</text>
<text font-size="11.01" fill="#ffffff" transform="translate(355.96 565) scale(0.479 1)" font-weight="700">N11</text>
<text font-size="10.14" fill="#ffffff" transform="translate(501.81 495.3) scale(0.586 1)" font-weight="700">N3</text>
<text font-size="10" fill="#ffffff" transform="translate(538.56 514.7) scale(0.671 1)" font-weight="700">N4</text>
<text font-size="10.87" fill="#ffffff" transform="translate(543.55 529.2) scale(0.638 1)" font-weight="700">N8</text>
<text font-size="11.01" fill="#ffffff" transform="translate(559.67 554) scale(0.597 1)" font-weight="700">N5</text>
<text font-size="10" fill="#ffffff" transform="translate(559.7 572.9) scale(0.612 1)" font-weight="700">N9</text>
<text font-size="9.86" fill="#ffffff" transform="translate(444.91 551.6) scale(0.603 1)" font-weight="700">N6</text>
<text font-size="10.87" fill="#ffffff" transform="translate(458.34 591) scale(0.646 1)" font-weight="700">N7</text>
<text font-size="8.99" fill="#ffffff" transform="translate(488.62 617) scale(0.656 1)" font-weight="700">N1</text>
<text font-size="9.71" fill="#ffffff" transform="translate(438.7 500.9) scale(0.641 1)" font-weight="700">N2b</text>
<text font-size="11.74" fill="#ffffff" transform="translate(473.7 552.1) scale(0.511 1)" font-weight="700">(N10)</text>
<text font-size="12.75" fill="#ffffff" transform="translate(520.8 547.1) scale(0.467 1)" font-weight="700">(N12)</text>
</g>
<g filter="url(#pxc)">
<text class="cj" x="23.5 23.5 23.5 23.5 23.5 23.5 23.5 23.5 23.5 23.5 23.5" y="103.8 124.9 146 167.1 188.2 209.3 230.4 251.5 272.6 293.7 314.8" font-size="19.5" fill="#ffffff" font-weight="300">导热油加热树脂成套设备</text>
<text class="cj" x="379.5 400.7 421.9 443.1 464.3 485.5 506.7 527.9 549.1 570.3 591.5 612.7" y="440.8 440.8 440.8 440.8 440.8 440.8 440.8 440.8 440.8 440.8 440.8 440.8" font-size="19.5" fill="#ffffff" font-weight="300">无锡中鼎化工设备有限公司</text>
<text font-size="13.7" fill="#ffff00" transform="translate(287.53 86.9) scale(0.496 1)" font-weight="500">冷凝器</text>
<text font-size="14.64" fill="#ffff00" transform="translate(444.11 159.7) scale(0.724 1)">m1</text>
<text font-size="14.64" fill="#ffff00" transform="translate(504.82 159.7) scale(0.716 1)">r1</text>
<text font-size="12.72" fill="#ffff00" transform="translate(211.43 160.68) scale(0.531 1)" font-weight="500">冷凝器</text>
<text font-size="14.06" fill="#ffff00" transform="translate(221.41 220.6) scale(0.650 1)">n1</text>
<text font-size="14.9" fill="#ffff00" transform="translate(478.48 233.9) scale(0.741 1)">b1</text>
<text font-size="15.31" fill="#ffff00" transform="translate(589.71 233.9) scale(0.633 1)">d1</text>
<text font-size="13.76" fill="#ffff00" transform="translate(388.99 287.83) scale(0.500 1)" font-weight="500">接收罐</text>
<text font-size="12.9" fill="#ffff00" transform="translate(480.83 284.9) scale(0.521 1)" font-weight="500">真空缓冲罐</text>
<text font-size="12.73" fill="#ffff00" transform="translate(600.69 285.02) scale(0.538 1)" font-weight="500">油水分离器</text>
<text font-size="12.43" fill="#00ff00" transform="translate(322.22 104.53) rotate(-80) scale(0.875 1)"><tspan x="-0.04" textLength="6.77" lengthAdjust="spacingAndGlyphs">Ø</tspan><tspan x="6.91">450</tspan></text>
<text font-size="12.57" fill="#00ff00" transform="translate(170.97 130.2) scale(0.860 1)"><tspan x="-0.04" textLength="6.84" lengthAdjust="spacingAndGlyphs">Ø</tspan><tspan x="6.99">300x5</tspan></text>
<text font-size="14.14" fill="#00ff00" transform="translate(170.97 253.8) scale(0.765 1)"><tspan x="-0.04" textLength="7.7" lengthAdjust="spacingAndGlyphs">Ø</tspan><tspan x="7.87">300x5</tspan></text>
<text font-size="13.14" fill="#00ff00" transform="translate(137.1 171.93) rotate(-90) scale(0.837 1)">1500</text>
<text font-size="14.43" fill="#00ff00" transform="translate(232 306.41) rotate(-90) scale(0.753 1)">1500</text>
<text font-size="13.08" fill="#00ff00" transform="translate(175.32 296.95) scale(0.488 1)" font-weight="500">陶瓷环填料</text>
<text font-size="12.71" fill="#00ff00" transform="translate(369.26 318.1) scale(0.857 1)"><tspan x="-0.04" textLength="6.92" lengthAdjust="spacingAndGlyphs">Ø</tspan><tspan x="7.07">900X5</tspan></text>
<text font-size="14.43" fill="#00ff00" transform="translate(425.1 309.77) rotate(-90) scale(0.791 1)">750</text>
<text font-size="11.93" fill="#e6007e" transform="translate(247.82 365.2) scale(0.525 1)" font-weight="400">(蝶阀|法兰)</text>
</g>
<g filter="url(#pxs)">

</g>
</svg>

</body></html>
